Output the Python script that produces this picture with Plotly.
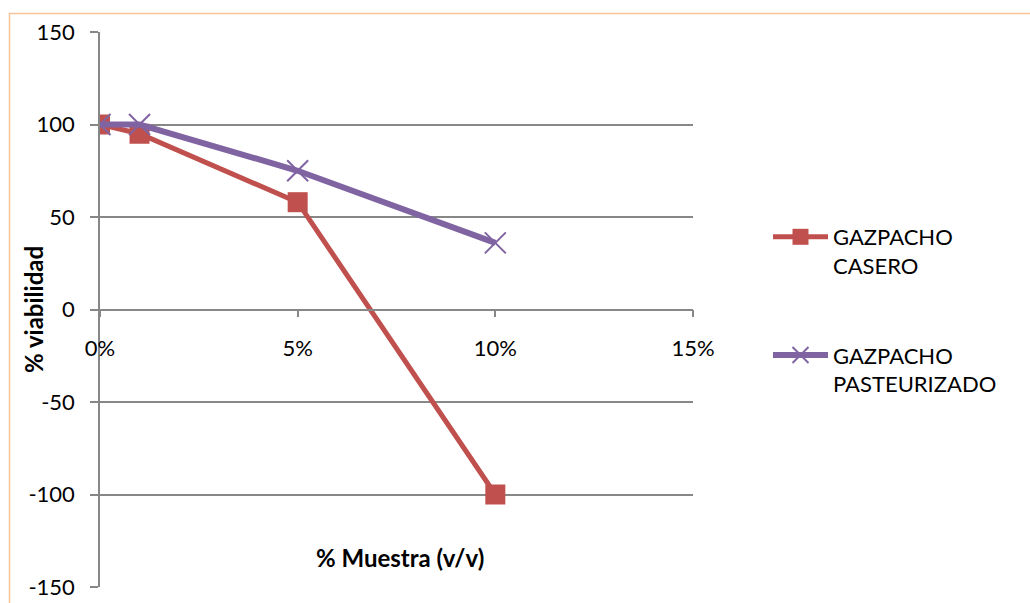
import plotly.graph_objects as go

# Sample concentration (v/v) and viability for each gazpacho
muestra = [0.0, 0.01, 0.05, 0.10]
casero = [100, 95, 58, -100]
pasteurizado = [100, 100, 75, 36]

y_ticks = [-150, -100, -50, 0, 50, 100, 150]
y_labels = ["-150", "-100", "-50", "0", "50", "100", "150"]
x_ticks = [0.0, 0.05, 0.10, 0.15]
x_labels = ["0%", "5%", "10%", "15%"]

RED = "#C0504D"
PURPLE = "#8064A2"
GRID = "#878787"
FONT = "Lato, Carlito, Calibri, sans-serif"

W, H = 1030, 603
L, R, T, B = 100, 337, 32, 16


def px_to_paper_x(px):
    return (px - L) / (W - L - R)


def px_to_paper_y(py):
    return (H - B - py) / (H - T - B)


fig = go.Figure()
fig.add_trace(go.Scatter(
    x=muestra, y=casero, mode="lines+markers",
    name="GAZPACHO<br>CASERO", legendgroup="a",
    line=dict(color=RED, width=5),
    marker=dict(symbol="square", size=20, color=RED),
))
fig.add_trace(go.Scatter(
    x=muestra, y=pasteurizado, mode="lines+markers",
    name="GAZPACHO<br>PASTEURIZADO", legendgroup="b",
    line=dict(color=PURPLE, width=6),
    marker=dict(symbol="x-thin", size=21, color=PURPLE,
                line=dict(color=PURPLE, width=2)),
))

fig.update_layout(
    width=W, height=H,
    margin=dict(l=L, r=R, t=T, b=B, autoexpand=False),
    paper_bgcolor="white", plot_bgcolor="white",
    font=dict(family=FONT, size=22, color="black"),
    showlegend=True,
    legend=dict(
        x=px_to_paper_x(768), y=px_to_paper_y(216),
        xanchor="left", yanchor="top",
        traceorder="grouped", tracegroupgap=58,
        valign="top", itemwidth=55,
        font=dict(family=FONT, size=22, color="black"),
        bgcolor="rgba(0,0,0,0)",
    ),
    xaxis=dict(
        range=[0, 0.15], tickvals=x_ticks, ticktext=x_labels,
        showgrid=False, zeroline=False,
        showline=True, linecolor=GRID, linewidth=1.5,
        ticks="outside", ticklen=7, tickcolor=GRID, tickwidth=1.5,
        anchor="free", position=0.5,
        ticklabelstandoff=12,
        tickfont=dict(family=FONT, size=22, color="black"),
    ),
    yaxis=dict(
        range=[-150, 150], tickvals=y_ticks, ticktext=y_labels,
        showgrid=True, gridcolor=GRID, gridwidth=1.5,
        zeroline=False,
        showline=True, linecolor=GRID, linewidth=1.5,
        ticks="outside", ticklen=8, tickcolor=GRID, tickwidth=1.5,
        ticklabelstandoff=11,
        tickfont=dict(family=FONT, size=22, color="black"),
    ),
    annotations=[
        dict(text="<b>% viabilidad</b>", textangle=-90,
             x=px_to_paper_x(33), y=px_to_paper_y(310),
             xref="paper", yref="paper", showarrow=False,
             xanchor="center", yanchor="middle",
             font=dict(family=FONT, size=24, color="black")),
        dict(text="<b>% Muestra (v/v)</b>",
             x=px_to_paper_x(400), y=px_to_paper_y(557),
             xref="paper", yref="paper", showarrow=False,
             xanchor="center", yanchor="middle",
             font=dict(family=FONT, size=24, color="black")),
    ],
    shapes=[
        dict(type="rect", xref="paper", yref="paper",
             x0=px_to_paper_x(9.5), x1=px_to_paper_x(1040),
             y0=px_to_paper_y(13.5), y1=px_to_paper_y(615),
             line=dict(color="#F8C59A", width=1.5),
             fillcolor="rgba(0,0,0,0)", layer="below"),
    ],
)

fig.write_html("out.html")
